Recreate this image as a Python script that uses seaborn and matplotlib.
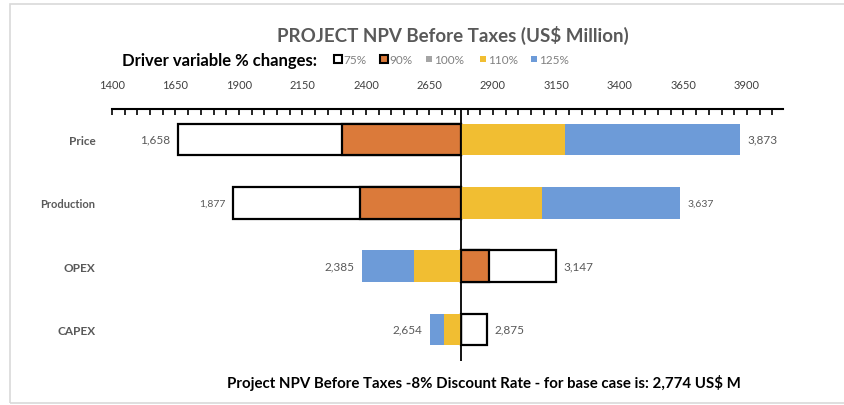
import matplotlib
matplotlib.use("Agg")
import matplotlib.pyplot as plt
from matplotlib.patches import Rectangle
from matplotlib.ticker import MultipleLocator, FixedLocator
import seaborn as sns
import pandas as pd

# Tornado data: project NPV (US$ million) for each driver at each % level
drivers = ["Price", "Production", "OPEX", "CAPEX"]
npv_75 = [1658, 1877, 3147, 2875]
npv_90 = [2304, 2377, 2885, 2774]
npv_110 = [3185, 3092, 2588, 2708]
npv_125 = [3873, 3637, 2385, 2654]
base_npv = 2774
tick_values = [1400, 1650, 1900, 2150, 2400, 2650, 2900, 3150, 3400, 3650, 3900]
levels = ["75%", "90%", "100%", "110%", "125%"]

colors = {
    "75%": "#FFFFFF",
    "90%": "#DB7A3A",
    "100%": "#A5A5A5",
    "110%": "#F1BE32",
    "125%": "#6D9BD8",
}
edges = {"75%": "black", "90%": "black", "100%": "none", "110%": "none", "125%": "none"}

sns.set_theme(style="white")
plt.rcParams["font.family"] = ["Lato", "DejaVu Sans"]

fig = plt.figure(figsize=(8.44, 4.06), dpi=100)
ax = fig.add_axes([112 / 844, 1 - 362 / 406, (783 - 112) / 844, (362 - 110) / 406])

series = {"75%": npv_75, "90%": npv_90, "110%": npv_110, "125%": npv_125}
# draw the wider extents first so the inner levels sit on top
for lvl in ["75%", "125%", "90%", "110%"]:
    df = pd.DataFrame({"driver": drivers,
                       "delta": [v - base_npv for v in series[lvl]]})
    sns.barplot(data=df, y="driver", x="delta", order=drivers, orient="y",
                left=base_npv, color=colors[lvl], edgecolor=edges[lvl],
                linewidth=1.6 if edges[lvl] != "none" else 0,
                width=0.5, errorbar=None, saturation=1, ax=ax)

ax.set_xlim(1400, 4042)
ax.set_ylim(3.5, -0.48)
ax.set_xlabel("")
ax.set_ylabel("")

# value labels at both ends of each tornado bar
all_vals = list(zip(npv_75, npv_90, npv_110, npv_125))
for i, vals in enumerate(all_vals):
    lo, hi = min(vals), max(vals)
    fs = 7.5 if drivers[i] == "Production" else 8.5
    ax.text(lo - 30, i, f"{lo:,}", ha="right", va="center", fontsize=fs, color="#595959")
    ax.text(hi + 30, i, f"{hi:,}", ha="left", va="center", fontsize=fs, color="#595959")

# base case line
ax.axvline(base_npv, color="black", lw=1.3, zorder=5)

# axis on top with fine ticks
ax.xaxis.tick_top()
ax.xaxis.set_major_locator(FixedLocator(tick_values))
ax.xaxis.set_minor_locator(MultipleLocator(50))
ax.tick_params(axis="x", which="both", direction="in", length=4, width=1.2,
               color="black", top=True, bottom=False, pad=14, labelsize=8,
               labelcolor="#404040")
ax.tick_params(axis="y", length=0, pad=12, labelcolor="#595959")
for lab in ax.get_yticklabels():
    lab.set_fontweight("bold")
    lab.set_fontsize(8 if lab.get_text() == "Production" else 8.5)
for s in ["left", "right", "bottom"]:
    ax.spines[s].set_visible(False)
ax.spines["top"].set_color("black")
ax.spines["top"].set_linewidth(1.5)

# frame around the chart
fig.patches.append(Rectangle((10 / 844, 2 / 406), 1.0, 399 / 406, transform=fig.transFigure,
                             fill=False, edgecolor="#D9D9D9", lw=1.2))

fig.text(453 / 844, 1 - 35 / 406, "PROJECT NPV Before Taxes (US$ Million)",
         ha="center", va="center", fontsize=13.5, fontweight="bold", color="#595959")
fig.text(122 / 844, 1 - 61 / 406, "Driver variable % changes:",
         ha="left", va="center", fontsize=12, fontweight="bold", color="black")

# legend swatches
leg_x = [338, 384, 429, 483, 534]
for lvl, x in zip(levels, leg_x):
    sz = 8 if lvl in ("75%", "90%") else 6
    ec = "black" if lvl in ("75%", "90%") else colors[lvl]
    fig.patches.append(Rectangle(((x - sz / 2) / 844, (406 - 60 - sz / 2) / 406),
                                 sz / 844, sz / 406, transform=fig.transFigure,
                                 facecolor=colors[lvl], edgecolor=ec, lw=1.5 if ec == "black" else 0))
    fig.text((x + 5) / 844, 1 - 60 / 406, lvl, ha="left", va="center",
             fontsize=8.5, color="#808080")

fig.text(484 / 844, 1 - 383 / 406,
         "Project NPV Before Taxes -8% Discount Rate - for base case is: 2,774 US$ M",
         ha="center", va="center", fontsize=10.8, fontweight="bold", color="black")

fig.savefig("out.png", dpi=100, facecolor="white")
